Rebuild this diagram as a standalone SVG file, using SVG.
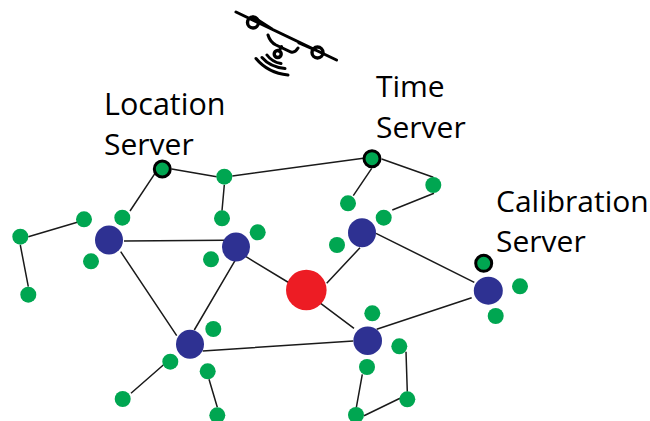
<svg xmlns="http://www.w3.org/2000/svg" width="650" height="421" viewBox="0 0 650 421">
<style>
.l{stroke:#1a1a1a;stroke-width:1.5;fill:none}
.d{stroke:#000;stroke-width:3;fill:none;stroke-linecap:round}
.c{stroke:#000;stroke-width:3.400;fill:none}
.g{fill:#00a651}
.b{fill:#2e3192}
.r{fill:#ed1c24}
.s{fill:#00a651;stroke:#000;stroke-width:3}
text{font-family:"Open Sans","Noto Sans",sans-serif;font-size:30px;fill:#000}
</style>
<rect width="650" height="421" fill="#fff"/>
<g id="drone">
<path class="d" d="M236 12L336.500 60M253 17L272 29M299 43L315 50M268 35Q270 42 276 45L291 52Q295 53 298 48M281.500 46.500L279 51M256 58.500Q268 73 288 75M262 57.500Q270 67 285 68.500M267 55Q272 62 281 63.500"/>
<circle class="c" cx="253" cy="22.500" r="5.500"/>
<circle class="c" cx="317.500" cy="52.500" r="5.500"/>
<circle class="c" cx="277.700" cy="54" r="3.500"/>
</g>
<g id="connectors">
<path class="l" d="M171.700 169L216.700 176.700M232.300 176L363.300 158.300M381.700 159L433.300 177.300M434 193.300L392.300 210M371.700 168.300L353.300 195.700M224.300 185L222 210.700M155 173.300L130 211M77.300 222.300L28.300 236.700M20.300 245L28.300 286.700M124 241L224 240.300M120.700 251.700L176.700 335.700M235 260.700L194.300 330M246 256.700L291 284M360 247.700L326.700 283.300M376 233.300L474.300 282.300M319.300 302.300L354 328.300M202.700 351L353.300 341M376.700 329.300L471.700 297.700M163.300 365L131 393.300M209 379.300L217.300 407.300M362.300 374.300L356.300 407.700M364 415.700L400 398.300M407.300 391.700L406 351.700"/>
</g>
<g id="n-location"><circle class="s" cx="162.300" cy="169" r="8"/></g>
<g id="n-time"><circle class="s" cx="372" cy="158.700" r="8"/></g>
<g id="n-calibration"><circle class="s" cx="483.700" cy="263.300" r="8"/></g>
<g id="n-red"><circle class="r" cx="306.300" cy="290" r="20.300"/></g>
<g id="n-b1"><ellipse class="b" cx="109" cy="240" rx="14" ry="14.500"/></g>
<g id="n-b2"><ellipse class="b" cx="236" cy="247" rx="14" ry="14.500"/></g>
<g id="n-b3"><ellipse class="b" cx="190" cy="344.300" rx="14" ry="14.500"/></g>
<g id="n-b4"><ellipse class="b" cx="362" cy="232.700" rx="14" ry="14.500"/></g>
<g id="n-b5"><ellipse class="b" cx="367.700" cy="340.700" rx="14.300" ry="14.300"/></g>
<g id="n-b6"><ellipse class="b" cx="488.300" cy="290.700" rx="14.500" ry="14"/></g>
<g id="n-g1"><circle class="g" cx="224.300" cy="176.700" r="8"/></g>
<g id="n-g2"><circle class="g" cx="222" cy="218.300" r="8"/></g>
<g id="n-g3"><circle class="g" cx="122.300" cy="217.700" r="8"/></g>
<g id="n-g4"><circle class="g" cx="84" cy="219.300" r="8"/></g>
<g id="n-g5"><circle class="g" cx="20.300" cy="236.700" r="8"/></g>
<g id="n-g6"><circle class="g" cx="28.300" cy="294.700" r="8"/></g>
<g id="n-g7"><circle class="g" cx="91" cy="261.300" r="8"/></g>
<g id="n-g8"><circle class="g" cx="257.700" cy="232.300" r="8"/></g>
<g id="n-g9"><circle class="g" cx="211" cy="259.300" r="8"/></g>
<g id="n-g10"><circle class="g" cx="213.300" cy="329" r="8"/></g>
<g id="n-g11"><circle class="g" cx="170.300" cy="361.700" r="8"/></g>
<g id="n-g12"><circle class="g" cx="122.700" cy="399" r="8"/></g>
<g id="n-g13"><circle class="g" cx="207.700" cy="371.300" r="8"/></g>
<g id="n-g14"><circle class="g" cx="217.300" cy="415.300" r="8"/></g>
<g id="n-g15"><circle class="g" cx="433.300" cy="185" r="8"/></g>
<g id="n-g16"><circle class="g" cx="348" cy="203.300" r="8"/></g>
<g id="n-g17"><circle class="g" cx="383.700" cy="217.700" r="8"/></g>
<g id="n-g18"><circle class="g" cx="337" cy="245" r="8"/></g>
<g id="n-g19"><circle class="g" cx="372.300" cy="313.300" r="8"/></g>
<g id="n-g20"><circle class="g" cx="399.300" cy="346.300" r="8"/></g>
<g id="n-g21"><circle class="g" cx="367" cy="367" r="8"/></g>
<g id="n-g22"><circle class="g" cx="407.300" cy="399.300" r="8"/></g>
<g id="n-g23"><circle class="g" cx="356" cy="415" r="8"/></g>
<g id="n-g24"><circle class="g" cx="520" cy="286.300" r="8"/></g>
<g id="n-g25"><circle class="g" cx="495.700" cy="316" r="8"/></g>
<g id="labels">
<text x="104" y="115" style="font-size:30.500px">Location</text>
<text x="104" y="155">Server</text>
<text x="376" y="97">Time</text>
<text x="376" y="137.500">Server</text>
<text x="496" y="212">Calibration</text>
<text x="496" y="252">Server</text>
</g>
</svg>
